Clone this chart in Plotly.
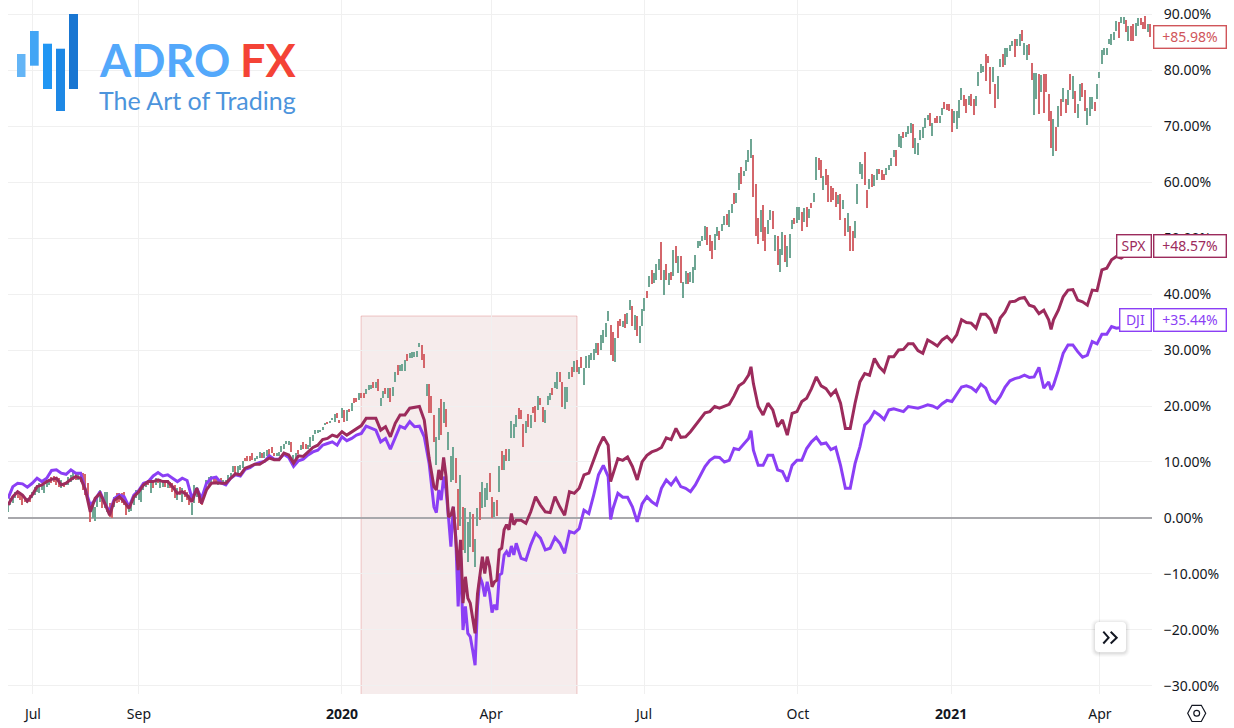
import plotly.graph_objects as go

# Candles (percent change since chart start): one entry per session, from session 0
bar_high = [
 2.3,3.5,3.8,4.7,4.7,4.4,4.1,3.7,3.5,4.1, 4.7,5.6,5.9,6.2,5.9,5.9,6.8,6.9,7.3,7.5,
 7.1,7.1,6.8,6.2,6.5,7.4,7.7,8.3,8.0,8.3, 8.3,8.0,7.9,6.2,2.9,2.3,2.0,4.1,5.0,3.2,
 4.7,4.7,2.6,2.6,3.8,4.4,4.4,4.4,4.7,3.2, 2.6,2.9,4.1,5.0,4.7,5.6,6.2,6.5,6.8,6.2,
 6.5,7.1,6.9,6.9,6.5,6.8,6.8,6.5,6.3,5.9, 5.3,5.6,5.3,5.0,4.7,4.1,2.6,5.9,5.6,4.4,
 4.1,5.0,6.8,7.4,7.5,7.4,7.5,7.1,7.1,6.8,6.8,7.7,8.0,
 9.35,9.2,9.2,9.5,10.1,10.8,11.0,11.1,11.55,10.8, 11.1,11.7,11.55,11.7,12.1,12.4,12.6,11.55,11.55,11.85,
 12.9,13.2,13.75,13.8,13.6,11.25,11.55,12.1,13.0,13.6, 13.2,13.0,14.5,14.8,15.7,15.8,15.8,16.3,17.0,17.2,
 17.4,17.8,18.6,18.8,17.5,19.6,19.2,19.2,19.4,
 20.6,21.4,21.5,22.3,22.4,22.3,23.0,23.8,23.8,24.3, 24.3,24.9,21.4,22.7,23.3,23.2,23.3,23.4,26.0,27.3,
 27.3,27.5,28.2,29.3,29.5,29.7,29.7,29.9,31.2,30.9, 29.3,23.9,23.9,21.8,18.4,14.4,19.6,21.2,20.8,19.4,
 15.4,11.1,12.7,10.8,5.1,7.7,1.9,1.7,-0.65,1.1, 0.8,-3.8,1.7,4.7,6.5,5.3,6.3,8.0,3.7,2.9,
 3.3,9.3,12.0,11.3,12.3,12.4,17.4,16.8,18.4,19.6, 19.3,16.8,17.4,18.6,18.4,19.8,20.0,21.7,21.5,19.8,
 19.2,21.8,22.3,23.2,24.3,26.0,26.0,24.2,23.4,23.4, 26.1,27.0,28.1,28.2,26.9,28.8,26.7,28.9,29.1,
 29.4,30.1,31.2,31.2,32.7,33.5,34.8,36.9,34.5,33.3, 32.1,35.1,35.5,35.1,36.4,36.6,38.9,37.9,36.3,36.1,
 34.3,37.3,39.2,40.6,43.3,44.3,43.8,45.4,46.2,49.2, 44.3,45.4,43.8,44.0,47.9,48.5,46.8,46.8,42.2,44.1,
 43.7,44.0,44.9,47.0,49.5,49.5,50.3,52.2,51.9,50.5, 49.5,50.8,51.9,51.3,52.5,53.9,54.3,55.0,56.1,58.0,
 58.0,61.6,62.6,62.0,63.9,65.8,67.7,64.8,59.7,53.5, 55.0,55.9,52.0,53.2,55.0,54.9,50.5,50.4,48.0,51.0,
 50.5,48.6,50.7,53.2,53.5,55.5,55.5,54.7,55.3,55.5, 55.1,56.2,58.1,64.5,64.2,63.9,61.0,62.3,61.3,59.2,
 58.9,58.3,57.7,57.9,56.8,53.5,54.5,52.2,51.3,53.1, 59.7,63.5,63.3,65.3,58.6,60.5,61.4,61.3,62.3,62.3,
 62.2,61.5,62.5,
 63.0,64.2,65.8,65.8,68.6,68.2,69.0,69.0,70.0,70.5, 70.4,67.8,66.9,69.2,69.8,71.4,72.0,72.4,70.5,71.5,
 71.7,71.7,73.3,74.2,74.0,73.9,73.0,72.6,72.6,74.6, 76.7,75.5,74.8,75.4,75.7,74.8,75.4,79.7,81.1,80.7,
 82.9,82.5,80.6,80.6,77.5,78.9,81.9,82.9,83.9,83.9, 84.5,85.2,85.5,85.6,86.4,87.1,84.8,84.5,84.6,81.3,
 79.4,79.4,79.3,79.1,79.3,79.3,75.8,72.6,71.2,69.8, 73.6,74.9,76.7,74.8,76.4,79.3,78.9,76.3,73.9,77.5,
 77.6,76.4,73.2,75.1,75.2,74.3,77.5,79.7,83.6,84.0, 84.0,85.5,86.5,86.7,88.8,88.6,89.4,89.5,89.0,87.9,
 87.9,88.3,88.4,89.2,89.2,88.6,89.6,88.3,88.2]

bar_low = [
 1.1,2.3,2.6,3.5,3.5,3.3,2.3,2.9,2.7,2.9, 3.5,4.1,4.7,4.5,5.0,4.4,5.6,5.9,6.2,6.5,
 5.9,5.6,5.3,5.5,5.9,5.9,6.5,6.8,6.8,6.8, 6.5,5.0,4.1,2.9,-0.8,0.0,-0.5,2.0,2.9,1.7,
 1.7,1.1,0.1,0.0,2.0,2.6,2.9,2.6,2.3,0.5, 1.1,1.3,2.3,3.5,3.2,2.9,5.0,5.6,5.9,4.4,
 5.3,5.9,6.2,5.3,5.6,5.6,5.3,5.3,4.7,3.5, 3.2,4.1,2.9,3.8,3.2,2.3,0.5,2.6,3.8,2.6,
 2.3,3.5,5.0,5.9,6.5,6.2,6.5,5.9,6.1,5.9,5.7,6.5,7.1,
 8.3,8.0,8.0,8.6,8.9,10.2,10.2,10.1,10.4,10.1, 10.5,10.8,10.7,10.8,11.1,11.25,11.55,11.0,11.1,11.1,
 11.7,12.4,13.3,13.0,11.7,9.9,10.8,11.4,12.1,12.4, 12.4,12.4,12.6,13.8,15.0,15.2,15.4,15.8,16.7,16.9,
 17.0,17.5,17.2,17.8,16.9,17.8,17.2,17.4,19.0,
 19.1,20.5,20.8,21.1,21.4,21.4,22.1,22.9,23.0,23.2, 23.3,22.7,20.0,21.4,22.1,21.5,20.8,21.7,24.3,25.5,
 26.3,26.3,26.3,28.1,28.5,28.5,28.8,28.8,30.5,28.3, 26.7,21.8,18.8,18.8,13.6,9.5,13.9,14.8,16.9,16.2,
 12.1,6.5,6.8,6.3,-2.1,-1.5,-5.7,-6.3,-7.8,-5.1, -6.0,-8.7,-1.5,-0.4,1.7,2.0,3.2,4.7,-0.05,0.2,
 0.35,4.7,8.5,8.6,10.1,10.1,14.2,14.2,16.2,17.6, 17.6,12.7,15.2,16.2,16.0,18.7,17.2,19.2,20.2,17.2,
 16.9,20.2,21.1,22.0,23.2,23.0,24.3,19.8,19.4,20.8, 24.8,25.2,26.1,26.1,25.8,26.7,23.8,26.7,26.7,
 28.2,28.2,29.4,29.1,30.0,31.2,32.4,35.1,29.1,28.1, 27.9,32.1,34.2,34.1,33.9,34.7,37.2,34.2,33.6,32.5,
 31.3,34.2,36.9,39.2,41.3,41.8,42.0,42.5,44.3,42.5, 39.8,42.5,41.6,42.5,43.2,45.5,43.7,42.0,39.2,41.8,
 41.8,42.2,42.0,44.3,48.3,48.5,49.4,49.7,48.8,47.6, 46.3,47.9,50.3,49.7,51.3,52.3,52.3,51.9,54.5,56.1,
 56.2,58.6,59.7,61.0,61.9,63.6,64.2,57.3,50.3,48.9, 51.0,49.5,47.6,50.8,53.2,51.6,47.6,45.2,44.0,47.0,
 45.8,44.8,46.4,51.6,52.5,52.6,53.2,51.3,52.9,51.9, 53.5,55.3,56.5,60.3,62.2,60.7,58.6,59.5,56.5,56.5,
 56.7,55.5,56.1,53.2,55.1,50.3,51.0,47.7,47.7,50.0, 56.1,61.4,60.5,59.5,55.3,58.7,59.1,59.2,60.4,61.4,
 60.4,60.3,61.3,
 62.1,62.9,64.5,62.9,66.2,66.0,67.8,68.0,68.6,68.8, 66.0,65.0,64.8,67.5,67.8,69.6,71.0,70.0,68.2,70.6,
 70.6,70.6,72.0,73.0,72.9,72.6,69.0,70.6,69.4,71.5, 74.6,73.6,72.4,73.7,73.6,72.0,73.5,77.1,79.4,79.7,
 78.1,81.2,75.7,77.9,73.3,74.9,80.5,80.5,80.9,82.4, 83.4,84.2,82.4,84.2,84.2,85.2,82.7,81.7,82.7,78.2,
 72.0,74.9,72.1,76.0,72.3,76.0,70.9,66.0,64.6,65.6, 69.9,71.7,74.2,72.3,73.7,76.4,74.8,72.3,71.4,74.5,
 75.1,72.6,70.2,71.7,73.0,72.6,74.8,78.5,81.1,82.7, 82.7,84.6,84.5,85.4,87.0,85.8,88.4,88.3,86.7,85.1,
 85.1,85.1,86.1,87.9,88.0,87.3,87.4,86.7,85.98]

# r = session closed lower, g = session closed higher
bar_dir = (
 "ggggrrrrgr" "ggggggggrr" "rrgrggggrg" "rrrrrggggr" "ggrrgrrrrr" "ggggggggrg"
 "rgrggrgrrr" "grgrrrgggr" "rggggrrgrgggg"
 "grgggrrrrg" "ggrggrrrgg" "ggggrggrgr" "rggggggggr" "gggrrgrgr"
 "grrgrrgggr" "grggrgrggr" "gggrgggggr" "rgrrrggrgr" "gggrrgrggg" "rggrgggrrg"
 "rgrgrggggr" "rrgrgrrgrr" "gggrggrrgg" "grgrgrggg"
 "gggrggggrr" "grrgrggrgr" "gggrgrgggr" "grgrgrgrgg" "rgggggggrr" "rggrggrggr"
 "ggrggggrrr" "grrggrgrgg" "rgggrggrgr" "grggrrgrrr" "rrgrgrgrrg" "gggrrgrggr" "rrg"
 "gggrggrggg" "rggggggrgr" "rggrrrrggg" "grrgrrgggg" "rrrgrggrgg" "ggrggrggrr"
 "ggrgrrrrgr" "grgrgrgrgg" "rrgggrgggg" "gggggrggrg" "rrggrrrgr")

# Line series: session number, then change in percent
line_session = (list(range(0, 176, 2)) + list(range(176, 211)) + list(range(212, 250, 2)) + [249]
                + list(range(250, 308, 2)) + [307] + list(range(308, 432, 2)) + [431]
                + list(range(432, 470, 2)))

spx_change = [
 2.3,3.8,4.7,4.1,3.0,4.1,5.6,5.9,6.5,6.9,7.1,5.9,6.2,6.9,7.4,7.1,5.0,1.1,3.5,4.4,2.6,0.5,3.2,3.8,2.9,1.7,3.8,4.7,
 5.9,6.5,6.5,6.8,6.5,6.5,5.6,4.4,4.7,4.1,2.9,5.3,2.6,5.0,
 6.2,6.3,6.2,6.2,7.1,7.9,7.7,8.9,9.2,9.6,9.6,10.1,10.7,10.4,10.4,11.6,11.25,9.8,11.1,11.0,11.8,12.6,13.0,14.0,14.2,14.8,14.5,15.4,14.8,
 15.4,16.0,16.5,17.8,17.8,17.8,15.7,16.3,14.5,16.9,18.4,18.4,19.6,19.8,19.9,17.5,10.7,
 5.6,5.0,8.6,6.8,10.8,7.4,0.2,0.5,2.0,-3.3,-9.3,-3.9,-15.2,-10.5,-14.3,-15.2,-18.2,-20.6,-13.5,-9.9,-6.9,-9.9,-6.9,-8.7,-12.3,-11.4,-11.1,-5.7,-5.4,-2.1,-1.2,-2.1,0.8,-1.2,-0.4,
 -0.4,-0.95,1.1,3.8,2.3,1.1,0.95,3.8,2.0,0.5,4.7,4.4,5.3,7.7,8.0,10.5,12.7,14.5,13.0, 6.5,
 8.0,10.6,10.3,10.9,9.2,6.8,10.0,11.2,11.8,12.1,12.6,14.3,14.0,16.0,14.4,14.5,15.4,16.6,17.6,18.8,19.0,19.9,19.6,19.9,20.3,21.8,23.6,24.2,25.5, 27.0,
 24.0,19.9,18.4,20.5,19.3,16.3,17.5,14.8,18.7,19.0,20.8,21.4,23.1,25.2,23.6,23.1,21.9,22.8,20.5,16.0,16.0,20.5,24.3,25.8,25.5,28.5,27.0,26.1,
 28.8,28.8,30.0,30.1,31.1,31.1,29.9,29.4,31.8,31.3,30.7,31.8,32.4,31.5,32.7,35.4,34.9,34.8,33.9,36.4,36.4,35.4,33.0,35.7,36.8,38.6,38.7,39.2,39.4,38.0,37.7,36.5,37.1,35.4, 33.7,
 35.4,37.1,39.5,40.7,40.8,38.9,38.6,38.0,40.7,40.6,44.3,44.6,46.1,46.7,46.4,47.0,46.8,47.0,46.8]

dji_change = [
 3.5,5.6,6.2,6.1,5.5,6.2,7.1,6.5,7.1,8.5,8.6,8.0,7.8,8.6,8.0,8.0,5.0,2.3,3.2,4.7,2.6,1.1,3.5,4.1,3.8,2.0,4.1,4.9,
 6.2,6.5,7.5,8.1,7.5,7.7,7.1,6.5,7.1,6.7,3.5,5.3,3.5,6.2,
 7.1,7.3,6.3,5.9,7.1,7.7,7.5,8.7,9.0,9.6,9.9,10.1,11.1,10.5,10.5,11.4,10.8,9.2,10.2,10.5,11.25,11.8,12.1,13.0,13.3,13.6,13.0,14.5,13.8,
 14.2,14.8,15.1,16.4,16.0,15.7,13.6,14.2,12.3,14.5,16.4,16.0,17.2,16.3,16.4,14.5,9.8,
 2.0,0.95,5.0,3.2,7.4,5.0,0.2,-5.1,2.0,-3.3,-15.8,-6.9,-20.0,-15.8,-20.6,-21.2,-23.6,-26.3,-15.8,-10.5,-11.7,-14.0,-11.4,-13.5,-16.9,-15.5,-16.4,-10.2,-9.9,-6.6,-6.0,-6.9,-5.0,-6.6,-4.5,
 -7.2,-7.5,-4.8,-2.7,-3.6,-5.7,-5.4,-3.5,-4.5,-6.3,-2.4,-2.7,-1.9,1.4,0.8,4.1,7.7,9.4,7.4, -0.25,
 1.7,4.4,3.7,3.7,2.0,-0.7,2.5,3.8,2.9,2.3,5.3,6.8,5.9,7.1,5.6,5.3,4.7,5.9,7.7,9.2,10.3,10.9,10.8,10.0,10.3,12.4,12.2,13.3,14.2, 15.6,
 12.1,9.4,9.4,11.2,11.2,8.6,8.3,6.5,9.4,10.3,10.3,12.4,13.6,14.4,13.2,13.4,12.2,12.6,9.4,5.3,5.3,9.7,12.7,16.6,17.5,19.0,18.4,17.6,
 19.3,19.5,19.3,19.0,19.9,19.7,19.6,19.9,20.2,20.0,19.6,20.4,21.0,20.8,22.0,23.4,23.6,23.3,22.6,23.9,23.2,21.1,20.5,21.7,23.4,24.5,24.9,25.1,25.5,25.1,25.2,26.9,23.2,24.3, 22.9,
 23.7,26.4,29.4,30.9,30.9,29.7,28.7,29.1,31.5,31.1,32.8,32.8,34.2,33.9,34.0,34.8,35.2,35.4,35.44]

x_tick_sessions = [10.3, 54.1, 138, 199.6, 262.8, 326.4, 389.7, 451.2]
x_tick_labels = ["Jul", "Sep", "<b>2020</b>", "Apr", "Jul", "Oct", "<b>2021</b>", "Apr"]
y_ticks = [90, 80, 70, 60, 50, 40, 30, 20, 10, 0, -10, -20, -30]
y_tick_labels = ["90.00%", "80.00%", "70.00%", "60.00%", "50.00%", "40.00%", "30.00%", "20.00%", "10.00%",
                 "0.00%", "\u221210.00%", "\u221220.00%", "\u221230.00%"]
last_labels = [("+85.98%", 85.98, "#d0555a"), ("+48.57%", 48.57, "#9c2b5c"), ("+35.44%", 35.44, "#8b3ff5")]

RED, GREEN = "#d4666b", "#6fa694"
FONT = "Noto Sans"
W, H, L, R, T, B = 1234, 728, 8, 82, 0, 34
PW, PH = W - L - R, H - T - B
X = lambda p: (p - L) / PW
Y = lambda p: 1 - (p - T) / PH
n = min(len(bar_high), len(bar_low), len(bar_dir))

fig = go.Figure()
sessions = list(range(n))
fig.add_trace(go.Bar(x=sessions, base=bar_low[:n], y=[h - l for h, l in zip(bar_high[:n], bar_low[:n])],
                     width=0.5, marker=dict(color=[RED if d == "r" else GREEN for d in bar_dir[:n]], line_width=0),
                     showlegend=False, hoverinfo="skip"))
m1 = min(len(line_session), len(dji_change))
m2 = min(len(line_session), len(spx_change))
fig.add_trace(go.Scatter(x=line_session[:m1], y=dji_change[:m1], mode="lines",
                         line=dict(color="#8b3ff5", width=3), showlegend=False))
fig.add_trace(go.Scatter(x=line_session[:m2], y=spx_change[:m2], mode="lines",
                         line=dict(color="#9c2b5c", width=3), showlegend=False))

shapes = [dict(type="rect", layer="below", xref="x", yref="y", x0=145.9, x1=235.1, y0=-40, y1=36.07,
               fillcolor="rgba(170,70,70,0.10)", line=dict(color="rgba(215,110,110,0.38)", width=1))]
logo_bars = [(17, 25.5, 54, 77, "#64b5f6"), (30, 38.7, 31, 65.7, "#42a5f5"), (43, 52, 43.7, 89, "#2196f3"),
             (56, 65, 48.7, 111, "#1e88e5"), (69, 78, 14, 89, "#1976d2")]
for a, b, c, d, col in logo_bars:
    shapes.append(dict(type="rect", xref="paper", yref="paper", x0=X(a), x1=X(b), y0=Y(d), y1=Y(c),
                       fillcolor=col, line_width=0))
def rrect(x0, y0, x1, y1, r):
    return (f"M{X(x0+r)},{Y(y0)} L{X(x1-r)},{Y(y0)} Q{X(x1)},{Y(y0)} {X(x1)},{Y(y0+r)} L{X(x1)},{Y(y1-r)} "
            f"Q{X(x1)},{Y(y1)} {X(x1-r)},{Y(y1)} L{X(x0+r)},{Y(y1)} Q{X(x0)},{Y(y1)} {X(x0)},{Y(y1-r)} "
            f"L{X(x0)},{Y(y0+r)} Q{X(x0)},{Y(y0)} {X(x0+r)},{Y(y0)} Z")
for g, a in [(4, .02), (3, .025), (2, .03), (1, .04)]:
    shapes.append(dict(type="path", xref="paper", yref="paper", path=rrect(1095 - g, 622 - g + 1, 1126 + g, 652 + g + 1, 4 + g),
                       fillcolor=f"rgba(0,0,0,{a})", line_width=0))
shapes.append(dict(type="path", xref="paper", yref="paper", path=rrect(1095, 622, 1126, 652, 4), fillcolor="white", line_width=0))
def poly(points, close=False):
    s = "M" + " L".join(f"{X(a)},{Y(b)}" for a, b in points)
    return s + (" Z" if close else "")
ink = dict(color="#131722", width=2)
shapes.append(dict(type="path", xref="paper", yref="paper", path=poly([(1103.3, 631.7), (1108.6, 637.7), (1103.3, 643.5)]), line=ink))
shapes.append(dict(type="path", xref="paper", yref="paper", path=poly([(1110.7, 631.7), (1116.7, 637.7), (1110.7, 643.5)]), line=ink))
shapes.append(dict(type="path", xref="paper", yref="paper",
                   path=poly([(1187.7, 713.3), (1192, 705.3), (1201.3, 705.3), (1205.7, 713.3), (1201.3, 721.5), (1192, 721.5)], True),
                   line=dict(color="#131722", width=1.2)))
shapes.append(dict(type="circle", xref="paper", yref="paper", x0=X(1193.8), x1=X(1199.6), y0=Y(716.2), y1=Y(710.4),
                   line=dict(color="#131722", width=1.2)))

ann = []
for (txt, v, col) in last_labels:
    ann.append(dict(text=txt, x=1.0, xref="paper", xanchor="left", xshift=1, y=v, yref="y", yanchor="middle",
                    showarrow=False, bgcolor="white", bordercolor=col, borderwidth=1.4, borderpad=1.5,
                    font=dict(family=FONT, size=14, color=col), width=68, height=18, align="center"))
ann.append(dict(text="SPX", x=1.0, xref="paper", xanchor="right", xshift=0, y=48.57, yref="y", yanchor="middle",
                showarrow=False, bgcolor="white", bordercolor="#9c2b5c", borderwidth=1.4, borderpad=1.5,
                font=dict(family=FONT, size=14, color="#9c2b5c"), width=30, height=18, align="center"))
ann.append(dict(text="DJI", x=1.0, xref="paper", xanchor="right", xshift=0, y=35.44, yref="y", yanchor="middle",
                showarrow=False, bgcolor="white", bordercolor="#8b3ff5", borderwidth=1.4, borderpad=1.5,
                font=dict(family=FONT, size=14, color="#8b3ff5"), width=27, height=18, align="center"))
ann.append(dict(text="<b>ADRO</b>", x=X(96.5), xref="paper", xanchor="left", y=Y(60), yref="paper", yanchor="middle",
                showarrow=False, height=40, font=dict(family="Lato", size=45, color="#53a8fb")))
ann.append(dict(text="<b>FX</b>", x=X(238), xref="paper", xanchor="left", y=Y(60), yref="paper", yanchor="middle",
                showarrow=False, height=40, font=dict(family="Lato", size=45, color="#f44336")))
ann.append(dict(text="The Art of Trading", x=X(96.5), xref="paper", xanchor="left", y=Y(100), yref="paper", yanchor="middle",
                showarrow=False, font=dict(family="Lato", size=25, color="#4c94dc")))

fig.update_layout(
    width=W, height=H, margin=dict(l=L, r=R, t=T, b=B), paper_bgcolor="white", plot_bgcolor="white",
    bargap=0, barmode="overlay", shapes=shapes, annotations=ann,
    font=dict(family=FONT, size=14, color="#131722"),
    xaxis=dict(range=[0, 472.7], tickvals=x_tick_sessions, ticktext=x_tick_labels, showgrid=True, gridcolor="#f0f0f0",
               gridwidth=1, zeroline=False, showline=False, ticks="outside", ticklen=7, tickcolor="rgba(0,0,0,0)",
               tickfont=dict(family=FONT, size=14, color="#131722")),
    yaxis=dict(range=[-31.43, 92.5], side="right", tickvals=y_ticks, ticktext=y_tick_labels, showgrid=True,
               gridcolor="#f0f0f0", gridwidth=1, zeroline=True, zerolinecolor="#a8a8ac", zerolinewidth=1.5, showline=False,
               ticks="outside", ticklen=8, tickcolor="rgba(0,0,0,0)",
               tickfont=dict(family=FONT, size=14, color="#131722")),
)
fig.write_html("out.html", config=dict(displayModeBar=False),
               post_script="document.body.style.margin='0';document.body.style.overflow='hidden';")
